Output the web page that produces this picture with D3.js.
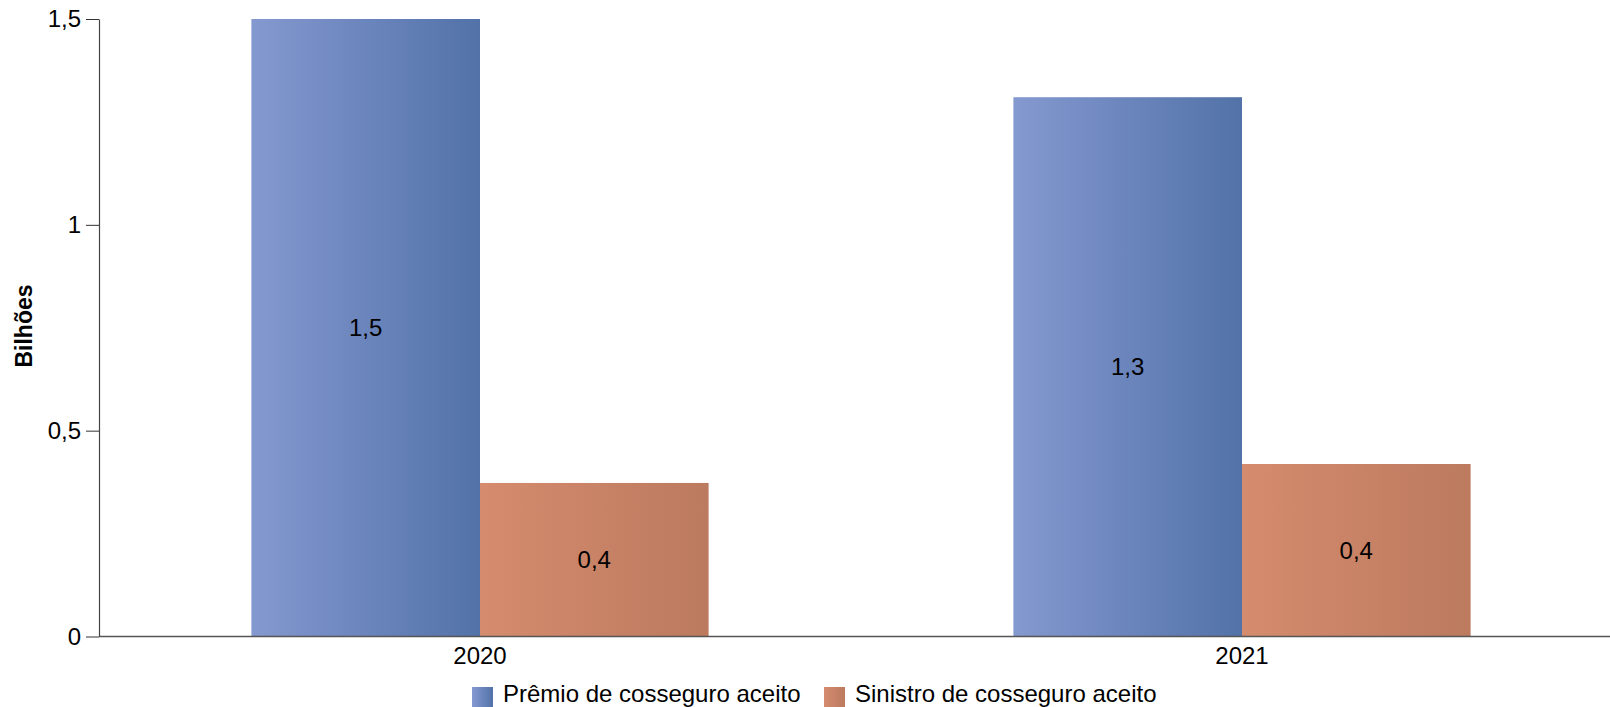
<!DOCTYPE html>
<html>
<head>
<meta charset="utf-8">
<script src="https://cdn.jsdelivr.net/npm/d3@7"></script>
<style>
  html, body { margin: 0; padding: 0; background: #fff; }
  svg { display: block; font-family: "Liberation Sans", Arial, sans-serif; }
</style>
</head>
<body>
<svg id="chart" width="1610" height="707"></svg>
<script>
const categories = ["2020", "2021"];
const seriesNames = ["Prêmio de cosseguro aceito", "Sinistro de cosseguro aceito"];
const premioValues = [1.5, 1.31];
const sinistroValues = [0.373, 0.419];
const yTicks = [0, 0.5, 1, 1.5];
const yTitle = "Bilhões";

const gradients = [
  { id: "gBlue", from: "#8499d0", to: "#5272a8" },
  { id: "gOrange", from: "#d58b6e", to: "#bc7a5e" }
];

const locale = d3.formatLocale({ decimal: ",", thousands: ".", grouping: [3], currency: ["R$", ""] });
const fmtTick = locale.format("~g");
const fmtLabel = locale.format(".1f");

const svg = d3.select("#chart");
const defs = svg.append("defs");
gradients.forEach(g => {
  const lg = defs.append("linearGradient").attr("id", g.id)
    .attr("x1", "0%").attr("x2", "100%").attr("y1", "0%").attr("y2", "0%");
  lg.append("stop").attr("offset", "0%").attr("stop-color", g.from);
  lg.append("stop").attr("offset", "100%").attr("stop-color", g.to);
});

const left = 99, right = 1623, y0 = 636.5, yTop = 19;
const x = d3.scaleBand().domain(categories).range([left, right]).paddingInner(0.4).paddingOuter(0.2);
const xs = d3.scaleBand().domain(seriesNames).range([0, x.bandwidth()]);
const y = d3.scaleLinear().domain([0, 1.5]).range([y0, yTop]);

const data = categories.map((c, i) => ({
  cat: c,
  vals: [
    { s: seriesNames[0], v: premioValues[i], g: "gBlue" },
    { s: seriesNames[1], v: sinistroValues[i], g: "gOrange" }
  ]
}));

// bars
const groups = svg.append("g").selectAll("g").data(data).join("g")
  .attr("transform", d => `translate(${x(d.cat)},0)`);
groups.selectAll("rect").data(d => d.vals).join("rect")
  .attr("x", d => xs(d.s))
  .attr("width", xs.bandwidth())
  .attr("y", d => y(d.v))
  .attr("height", d => y(0) - y(d.v))
  .attr("fill", d => `url(#${d.g})`);
groups.selectAll("text").data(d => d.vals).join("text")
  .attr("x", d => xs(d.s) + xs.bandwidth() / 2)
  .attr("y", d => (y(d.v) + y(0)) / 2)
  .attr("dy", "0.35em")
  .attr("text-anchor", "middle")
  .attr("font-size", 24)
  .attr("fill", "#000")
  .text(d => fmtLabel(d.v));

// x axis line
svg.append("line")
  .attr("x1", left).attr("x2", 1610)
  .attr("y1", y0).attr("y2", y0)
  .attr("stroke", "#555").attr("stroke-width", 1.5);

// x labels
svg.append("g").selectAll("text").data(categories).join("text")
  .attr("x", d => x(d) + x.bandwidth() / 2)
  .attr("y", 664)
  .attr("text-anchor", "middle")
  .attr("font-size", 24)
  .attr("fill", "#000")
  .text(d => d);

// y axis
const yAxis = d3.axisLeft(y).tickValues(yTicks).tickSize(13).tickSizeOuter(0).tickPadding(5).tickFormat(fmtTick);
const ga = svg.append("g").attr("transform", `translate(${left},0)`).call(yAxis);
ga.select(".domain").attr("stroke", "#444").attr("stroke-width", 1.2);
ga.selectAll(".tick line").attr("stroke", "#333");
ga.selectAll(".tick text").attr("font-size", 24).attr("fill", "#000")
  .attr("font-family", "'Liberation Sans', Arial, sans-serif");

// y title
svg.append("text")
  .attr("transform", `translate(32,326) rotate(-90)`)
  .attr("text-anchor", "middle")
  .attr("font-size", 23)
  .attr("font-weight", "bold")
  .attr("fill", "#000")
  .text(yTitle);

// legend
const legendItems = [
  { name: seriesNames[0], g: "gBlue", x: 472 },
  { name: seriesNames[1], g: "gOrange", x: 824 }
];
const lg = svg.append("g").selectAll("g").data(legendItems).join("g")
  .attr("transform", d => `translate(${d.x},0)`);
lg.append("rect").attr("x", 0).attr("y", 687).attr("width", 21).attr("height", 22)
  .attr("fill", d => `url(#${d.g})`);
lg.append("text").attr("x", 31).attr("y", 702)
  .attr("font-size", 24).attr("fill", "#000")
  .text(d => d.name);
</script>
</body>
</html>
